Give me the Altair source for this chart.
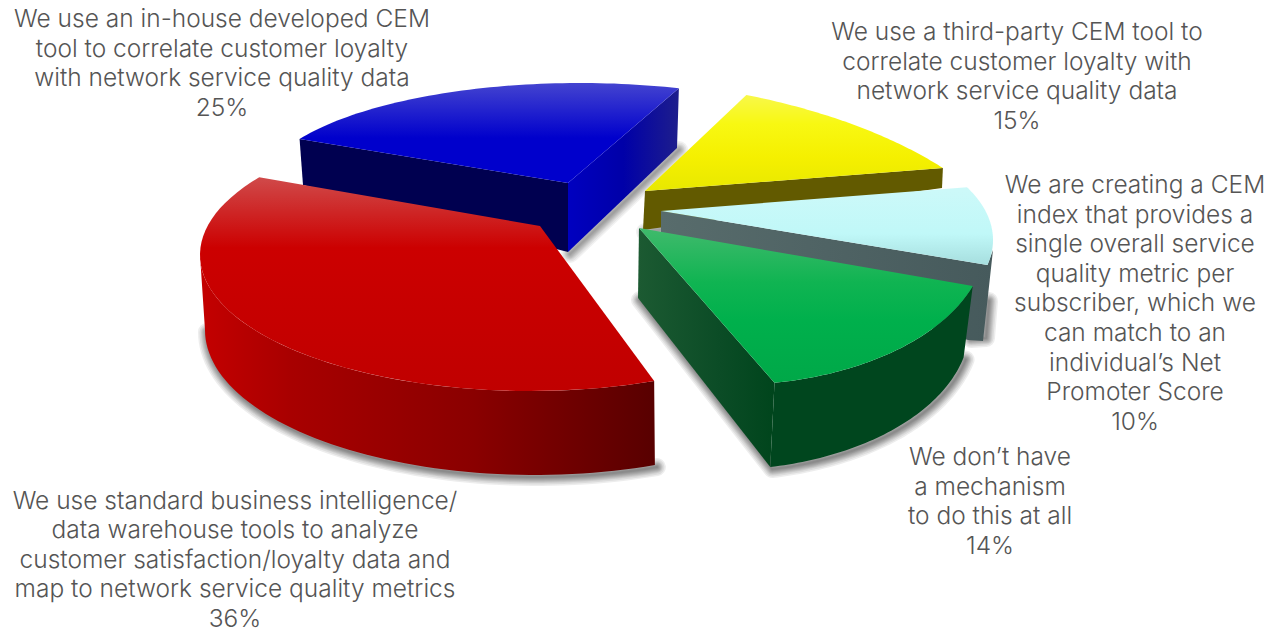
import math
import altair as alt
import pandas as pd

# ---- chart values -------------------------------------------------------
names = ["in-house", "third-party", "index", "none", "standard"]
shares = [25, 15, 10, 14, 36]
labels = [
    ["We use an in-house developed CEM", "tool to correlate customer loyalty",
     "with network service quality data", "25%"],
    ["We use a third-party CEM tool to", "correlate customer loyalty with",
     "network service quality data", "15%"],
    ["We are creating a CEM", "index that provides a", "single overall service",
     "quality metric per", "subscriber, which we", "can match to an",
     "individual\u2019s Net", "Promoter Score", "10%"],
    ["We don\u2019t have", "a mechanism", "to do this at all", "14%"],
    ["We use standard business intelligence/", "data warehouse tools to analyze",
     "customer satisfaction/loyalty data and", "map to network service quality metrics", "36%"],
]

# ---- layout (perspective view of the exploded pie) ----------------------
W, H, M = 1267, 625, 8
FONT = "Inter"
label_anchor = [(222, 27, 29.6), (1017, 40, 29.6), (1135, 193, 29.6), (990, 465, 29.6), (235, 508.5, 29.6)]

# top ellipse: centre, radii, start angle, sweep stretch of the perspective
geom = {
    "in-house": dict(c=(580, 191), r=(320, 108), t0=208.8, k=0.88, apex=(568, 183)),
    "third-party": dict(c=(560, 300), r=(475, 223), t0=293.1, k=0.567, apex=(645, 191)),
    "index": dict(c=(793, 240), r=(200, 107), t0=-29.6, k=1.197, apex=(661, 211)),
    "none": dict(c=(730, 240), r=(256, 145), t0=18.5, k=1.22, apex=(639, 228)),
    "standard": dict(c=(530, 255), r=(330, 136), t0=67.9, k=1.134, apex=(540, 226)),
}


def arc(c, r, a, b, n=60):
    return [(c[0] + r[0] * math.cos(math.radians(a + (b - a) * i / n)),
             c[1] + r[1] * math.sin(math.radians(a + (b - a) * i / n))) for i in range(n + 1)]


def sweep(name):
    g = geom[name]
    return g["t0"], g["t0"] + shares[names.index(name)] * 3.6 * g["k"]


def top(name):
    g = geom[name]
    a, b = sweep(name)
    return [g["apex"]] + arc(g["c"], g["r"], a, b)


def frame(pts, close=True):
    pts = list(pts) + ([pts[0]] if close else [])
    return pd.DataFrame({"i": range(len(pts)), "x": [p[0] for p in pts], "y": [p[1] for p in pts]})


xs = alt.Scale(domain=[M, M + W], nice=False, zero=False)
ys = alt.Scale(domain=[M + H, M], nice=False, zero=False)


def draw(pts, close=True, **mark):
    return alt.Chart(frame(pts, close)).mark_line(**mark).encode(
        x=alt.X("x:Q", scale=xs, axis=None),
        y=alt.Y("y:Q", scale=ys, axis=None),
        order="i:Q",
    )


def grad(stops, horizontal=False):
    s = [alt.GradientStop(color=c, offset=o) for o, c in stops]
    if horizontal:
        return alt.Gradient(gradient="linear", stops=s, x1=0, x2=1, y1=0, y2=0)
    return alt.Gradient(gradient="linear", stops=s, x1=0, x2=0, y1=0, y2=1)


def poly(pts, fill):
    return draw(pts, fill=fill, stroke=None, strokeWidth=0, interpolate="linear")


def shadow(edge, dx=2, dy=2, strength=1.0):
    """Soft contact shadow along the foot of a wall: stacked translucent strokes."""
    moved = [(x + dx, y + dy) for x, y in edge]
    return [
        draw(moved, close=False, stroke="#000000", strokeOpacity=0.07 * strength,
             strokeWidth=w, strokeJoin="round", strokeCap="round")
        for w in (18, 15, 12, 10, 8, 6, 4, 2)
    ]


layers = []

# in-house (blue)
apx = geom["in-house"]["apex"]
pts = top("in-house")
blue_front = [apx, pts[1], (303, 185), (568, 252)]
blue_side = [apx, pts[-1], (677, 148), (568, 252)]
layers += shadow([(568, 252), (677, 148)], strength=0.8)
layers += [
    poly(blue_front, "#000050"),
    poly(blue_side, grad([(0, "#0000c0"), (0.5, "#0000a8"), (1, "#1e1e8c")], True)),
    poly(pts, grad([(0, "#4444d0"), (0.55, "#0000cc"), (1, "#0000cc")])),
]

# third-party (yellow)
apx = geom["third-party"]["apex"]
pts = top("third-party")
yellow_front = [apx, pts[-1], (942, 188), (643, 230)]
layers += shadow([(643, 230), (700, 222)], strength=0.8)
layers += [
    poly(yellow_front, "#625a00"),
    poly(pts, grad([(0, "#f8f84a"), (0.3, "#f8f812"), (0.65, "#f5f000"), (1, "#e8e800")])),
]

# index (cyan)
apx = geom["index"]["apex"]
pts = top("index")
cyan_wall = [apx, pts[-1], (993, 250), (983, 341), (968, 340), (661, 240)]
layers += shadow([(986, 300), (983, 337), (968, 338)], dx=3, dy=1)
layers += [
    poly(cyan_wall, grad([(0, "#586c6c"), (1, "#465a5c")], True)),
    poly(pts, grad([(0, "#cdf9f9"), (0.6, "#c0f8f8"), (1, "#a6dede")])),
]

# none (green)
apx = geom["none"]["apex"]
pts = top("none")
g_arc = arc((720, 325), (250, 145), 13, 78.4)
green_left = [apx, pts[-1], g_arc[-1], (638, 298)]
green_right = pts[1:] + g_arc[::-1]
layers += shadow([(638, 298)] + g_arc[::-1])
layers += [
    poly(green_left, grad([(0, "#1c5a32"), (0.6, "#0b4c26"), (1, "#00451c")], True)),
    poly(green_right, "#00461e"),
    poly(pts, grad([(0, "#40ba6c"), (0.35, "#10b452"), (0.6, "#00b04c"), (1, "#00a848")])),
]

# standard (red)
pts = top("standard")
r_top = arc(geom["standard"]["c"], geom["standard"]["r"], geom["standard"]["t0"], 180)
r_bot = arc((535, 330), (330, 145), 68.7, 180)
red_wall = r_top + r_bot[::-1]
layers += shadow(r_bot)
layers += [
    poly(red_wall, grad([(0, "#c40000"), (0.2, "#a80000"), (0.6, "#8a0000"), (1, "#580000")], True)),
    poly(pts, grad([(0, "#d04a4a"), (0.33, "#cc0000"), (1, "#c00000")])),
]

# labels
rows = []
for block, (cx, y0, step) in zip(labels, label_anchor):
    for j, line in enumerate(block):
        rows.append({"t": line, "x": cx, "y": y0 + j * step})
text = alt.Chart(pd.DataFrame(rows)).mark_text(
    font=FONT, fontSize=24.5, fontWeight=300, color="#555555", align="center", baseline="alphabetic"
).encode(
    x=alt.X("x:Q", scale=xs, axis=None),
    y=alt.Y("y:Q", scale=ys, axis=None),
    text="t:N",
)
layers.append(text)

chart = alt.layer(*layers).properties(
    width=W, height=H, padding=0, background="#ffffff",
    autosize=alt.AutoSizeParams(type="none"),
).configure_view(stroke=None)

chart.save("out.html", embed_options={"renderer": "svg", "actions": False})
